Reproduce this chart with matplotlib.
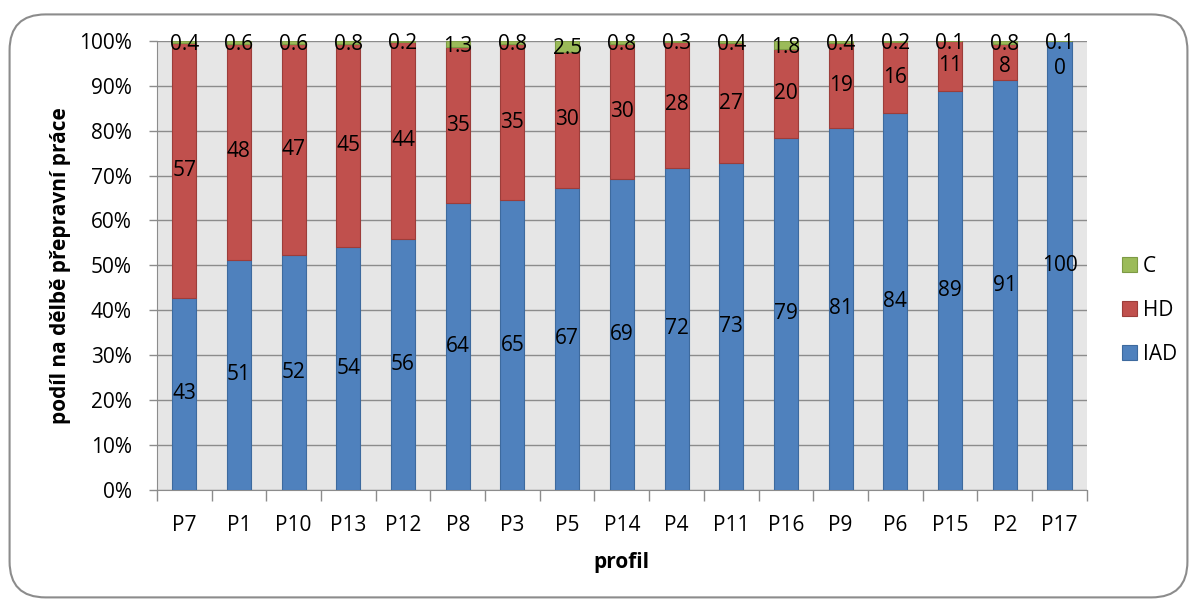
import matplotlib.pyplot as plt
import numpy as np
from matplotlib.patches import FancyBboxPatch
from matplotlib.ticker import PercentFormatter, FixedLocator

profiles = ["P7", "P1", "P10", "P13", "P12", "P8", "P3", "P5", "P14", "P4",
            "P11", "P16", "P9", "P6", "P15", "P2", "P17"]
iad = [43, 51, 52, 54, 56, 64, 65, 67, 69, 72, 73, 79, 81, 84, 89, 91, 100]
hd = [57, 48, 47, 45, 44, 35, 35, 30, 30, 28, 27, 20, 19, 16, 11, 8, 0]
c = [0.4, 0.6, 0.6, 0.8, 0.2, 1.3, 0.8, 2.5, 0.8, 0.3, 0.4, 1.8, 0.4, 0.2, 0.1, 0.8, 0.1]

plt.rcParams["font.family"] = ["Open Sans", "DejaVu Sans"]

iad_a = np.array(iad, dtype=float)
hd_a = np.array(hd, dtype=float)
c_a = np.array(c, dtype=float)
total = iad_a + hd_a + c_a
iad_s = iad_a / total * 100
hd_s = hd_a / total * 100
c_s = c_a / total * 100

fig = plt.figure(figsize=(11.97, 6.01), dpi=100)
frame = FancyBboxPatch((0.008, 0.006), 0.984, 0.97, boxstyle="round,pad=0,rounding_size=0.03",
                       transform=fig.transFigure, facecolor="none", edgecolor="#8c8c8c",
                       linewidth=1.5, mutation_aspect=1197 / 601, zorder=10)
fig.patches.append(frame)
ax = fig.add_axes([0.131, 0.185, 0.777, 0.747])
ax.set_facecolor("#e6e6e6")

x = np.arange(len(profiles))
w = 0.44
ax.bar(x, iad_s, w, color="#4f81bd", edgecolor="#3d6a9e", linewidth=0.8, label="IAD", zorder=3)
ax.bar(x, hd_s, w, bottom=iad_s, color="#c0504d", edgecolor="#9c3d3a", linewidth=0.8, label="HD", zorder=3)
ax.bar(x, c_s, w, bottom=iad_s + hd_s, color="#9bbb59", edgecolor="#7d9a44", linewidth=0.8, label="C", zorder=3)

fs = 15
for i in range(len(profiles)):
    ax.text(x[i], iad_s[i] / 2, f"{iad[i]:g}", ha="center", va="center", fontsize=fs, zorder=5)
    hy = iad_s[i] + hd_s[i] / 2
    if hd[i] == 0:
        hy = iad_s[i] - 6
    elif hd[i] < 10:
        hy -= 1
    ax.text(x[i], hy, f"{hd[i]:g}", ha="center", va="center", fontsize=fs, zorder=5)
    ax.text(x[i], 100 - c_s[i] / 2 - 0.5, f"{c[i]:g}", ha="center", va="center", fontsize=fs, zorder=5)

ax.set_xlim(-0.5, len(profiles) - 0.5)
ax.set_ylim(0, 100)
ax.set_yticks(np.arange(0, 101, 10))
ax.yaxis.set_major_formatter(PercentFormatter(decimals=0))
ax.grid(axis="y", color="#8c8c8c", linewidth=1, zorder=1)
ax.set_xticks(x, profiles)
ax.xaxis.set_minor_locator(FixedLocator(np.arange(-0.5, len(profiles), 1)))
ax.tick_params(axis="x", which="major", length=0, pad=18, labelsize=fs)
ax.tick_params(axis="x", which="minor", length=8, color="#8c8c8c", width=1)
ax.tick_params(axis="y", length=6, color="#8c8c8c", width=1, labelsize=fs, pad=12)
for s in ["top", "right"]:
    ax.spines[s].set_visible(False)
for s in ["left", "bottom"]:
    ax.spines[s].set_color("#8c8c8c")

ax.set_xlabel("profil", fontsize=15, fontweight="bold", va="center")
ax.xaxis.set_label_coords(0.5, -0.163)
ax.set_ylabel("podíl na dělbě přepravní práce", fontsize=15, fontweight="bold", va="center")
ax.yaxis.set_label_coords(-0.104, 0.5)

handles, labels = ax.get_legend_handles_labels()
ax.legend(handles[::-1], labels[::-1], loc="center left", bbox_to_anchor=(1.018, 0.40), frameon=False,
          fontsize=fs, handlelength=0.7, handleheight=0.7, labelspacing=1.1, handletextpad=0.3)

fig.savefig("out.png", dpi=100)
